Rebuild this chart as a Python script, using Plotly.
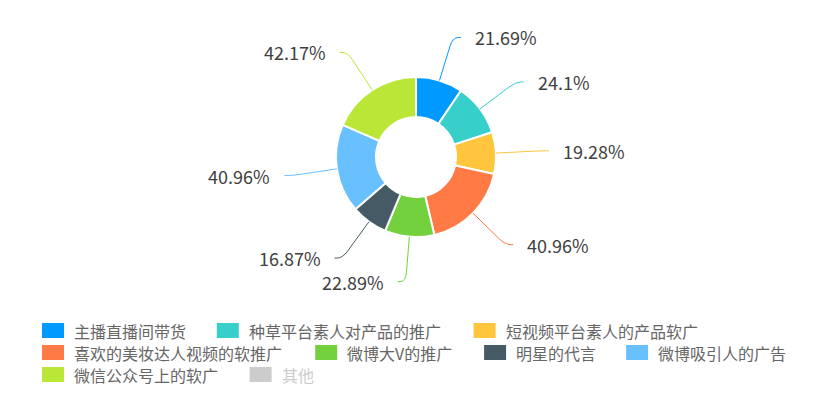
import numpy as np
import plotly.graph_objects as go

# ---- data ----
labels = ["主播直播间带货", "种草平台素人对产品的推广", "短视频平台素人的产品软广",
          "喜欢的美妆达人视频的软推广", "微博大V的推广", "明星的代言",
          "微博吸引人的广告", "微信公众号上的软广", "其他"]
values = [21.69, 24.1, 19.28, 40.96, 22.89, 16.87, 40.96, 42.17, 0]
hidden = ["其他"]

# ---- style ----
colors = ["#0099FF", "#36CFC9", "#FFC53D", "#FF7A45", "#73D13D",
          "#465A65", "#69C0FF", "#BAE637", "#CCCCCC"]
W, H = 831, 416
cx, cy, r = 416, 157, 80          # pie centre / outer radius in pixels
L1, L2, GAP = 45, 8, 12           # leader line lengths, text gap
FONT = "Noto Sans CJK SC, Noto Sans, sans-serif"
label_font = dict(family=FONT, size=18, color="#404040")
leg_size, leg_color, leg_off = 16, "#666666", "#CCCCCC"


def px(x, y):
    return x / W, 1 - y / H


fig = go.Figure(go.Pie(
    labels=labels, values=values, sort=False, direction="clockwise", rotation=0,
    hole=0.5, textinfo="none", hoverinfo="label+value", showlegend=False,
    marker=dict(colors=colors, line=dict(color="white", width=2)),
    domain=dict(x=[(cx - r) / W, (cx + r) / W], y=[1 - (cy + r) / H, 1 - (cy - r) / H]),
))

# leader lines and outside labels, computed from the slice angles
vis = [(l, v, c) for l, v, c in zip(labels, values, colors) if l not in hidden]
total = sum(v for _, v, _ in vis)
cum = 0.0
shapes, annotations = [], []
for lab, v, col in vis:
    th = 2 * np.pi * (cum + v / 2) / total
    cum += v
    s, c = np.sin(th), np.cos(th)
    side = 1 if s >= 0 else -1
    p0 = np.array([cx + r * s, cy - r * c])
    pc = np.array([cx + (r + L1) * s, cy - (r + L1) * c])
    pe = pc + np.array([side * L2, 0])
    p1 = p0 + 0.8 * (pc - p0)
    p2 = pc + 0.7 * (pe - pc)
    pts = [px(*p) for p in (p0, p1, pc, p2, pe)]
    path = "M {:.5f},{:.5f} L {:.5f},{:.5f} Q {:.5f},{:.5f} {:.5f},{:.5f} L {:.5f},{:.5f}".format(
        *[q for p in pts for q in p])
    shapes.append(dict(type="path", path=path, xref="paper", yref="paper",
                       line=dict(color=col, width=1)))
    ax, ay = px(pe[0] + side * GAP, pe[1])
    annotations.append(dict(x=ax, y=ay, xref="paper", yref="paper", showarrow=False,
                            text=f"{v}%", xanchor="left" if side > 0 else "right",
                            yanchor="middle", font=label_font))

# legend (ECharts style: wide rectangles, flowing rows)
def text_w(t):
    return sum(16.4 if ord(ch) > 255 else 10.5 for ch in t)

lx0, ly0, row_h = 42, 330.5, 22
rw, rh, tgap, igap = 22, 15, 9, 29
x, y = lx0, ly0
for lab, col in zip(labels, colors):
    w = rw + tgap + text_w(lab)
    if x + w > W - 10 and x > lx0:
        x, y = lx0, y + row_h
    off = lab in hidden
    fc = leg_off if off else col
    x0p, y0p = px(x, y + rh / 2)
    x1p, y1p = px(x + rw, y - rh / 2)
    shapes.append(dict(type="rect", xref="paper", yref="paper", x0=x0p, y0=y0p, x1=x1p, y1=y1p,
                       fillcolor=fc, line=dict(width=0)))
    tx, ty = px(x + rw + tgap - 1, y)
    annotations.append(dict(x=tx, y=ty, xref="paper", yref="paper", showarrow=False, text=lab,
                            xanchor="left", yanchor="middle",
                            font=dict(family=FONT, size=leg_size, color=leg_off if off else leg_color)))
    x += w + igap

fig.update_layout(
    width=W, height=H, margin=dict(l=0, r=0, t=0, b=0),
    paper_bgcolor="white", plot_bgcolor="white",
    shapes=shapes, annotations=annotations,
    hiddenlabels=hidden, showlegend=False,
)

fig.write_html("out.html", config={"displayModeBar": False},
               post_script="document.body.style.margin='0';document.body.style.overflow='hidden';")
